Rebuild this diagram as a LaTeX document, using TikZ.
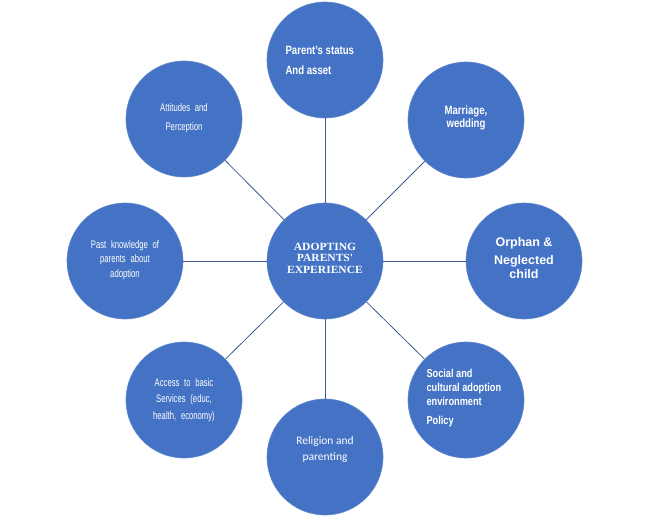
\documentclass[tikz,border=0pt]{standalone}
\usepackage{fontspec}
\usepackage{tikz}
\setmainfont{Liberation Sans}
\newfontfamily\narrowfont[FakeStretch=0.7,WordSpace=2.2]{Liberation Sans}
\newfontfamily\boldnarrow[FakeStretch=0.8]{Liberation Sans}
\newfontfamily\calibrifont{Carlito}
\newfontfamily\titlefont[FakeStretch=1.05]{Liberation Serif}
\definecolor{bubble}{RGB}{68,114,196}
\definecolor{spokeblue}{RGB}{66,92,146}

\begin{document}
\begin{tikzpicture}[x=1pt,y=-1pt,
    hub/.style={circle,fill=bubble,draw=bubble!85!white,line width=0.6pt,minimum size=116pt,inner sep=0pt,text=white},
    spoke/.style={draw=spokeblue,line width=0.8pt}]
    \useasboundingbox (0,0) rectangle (649,519);

    % Central circle
    \node[hub] (adopt) at (325,261) {};
    \node[text=white,align=center,font=\titlefont\bfseries\fontsize{11}{11.5}\selectfont] (adopttext) at (325,258) {ADOPTING\\PARENTS'\\EXPERIENCE};

    % Outer circles
    \node[hub] (status) at (325,60) {};
    \node[hub] (marriage) at (466,120) {};
    \node[hub] (orphan) at (524,261) {};
    \node[hub] (social) at (466,400) {};
    \node[hub] (religion) at (325,457) {};
    \node[hub] (access) at (184,400) {};
    \node[hub] (knowledge) at (125,261) {};
    \node[hub] (attitude) at (184,119) {};

    % Spokes
    \draw[spoke] (adopt) -- (status);
    \draw[spoke] (adopt) -- (marriage);
    \draw[spoke] (adopt) -- (orphan);
    \draw[spoke] (adopt) -- (social);
    \draw[spoke] (adopt) -- (religion);
    \draw[spoke] (adopt) -- (access);
    \draw[spoke] (adopt) -- (knowledge);
    \draw[spoke] (adopt) -- (attitude);

    % Labels
    \node[text=white,align=left,anchor=west,font=\boldnarrow\bfseries\fontsize{12}{20}\selectfont] (statustext) at (282,60) {Parent’s status\\And asset};
    \node[text=white,align=center,font=\boldnarrow\bfseries\fontsize{12}{13.5}\selectfont] (marriagetext) at (466,118) {Marriage,\\wedding};
    \node[text=white,align=center,font=\bfseries\fontsize{12.5}{14}\selectfont] (orphantext) at (524,258) {Orphan \&\\[4pt]Neglected\\child};
    \node[text=white,align=left,anchor=west,font=\boldnarrow\bfseries\fontsize{11.5}{14}\selectfont] (socialtext) at (423,398) {Social and\\cultural adoption\\environment\\[5pt]Policy};
    \node[text=white,align=center,font=\calibrifont\fontsize{11.5}{16}\selectfont] (religiontext) at (325,449) {Religion and\\parenting};
    \node[text=white,align=center,font=\narrowfont\fontsize{11}{16.5}\selectfont] (accesstext) at (184,400) {Access to basic\\Services (educ,\\health, economy)};
    \node[text=white,align=center,font=\narrowfont\fontsize{11}{14.5}\selectfont] (knowledgetext) at (125,260) {Past knowledge of\\parents about\\adoption};
    \node[text=white,align=center,font=\narrowfont\fontsize{11}{19}\selectfont] (attitudetext) at (184,118) {Attitudes and\\Perception};
\end{tikzpicture}
\end{document}
